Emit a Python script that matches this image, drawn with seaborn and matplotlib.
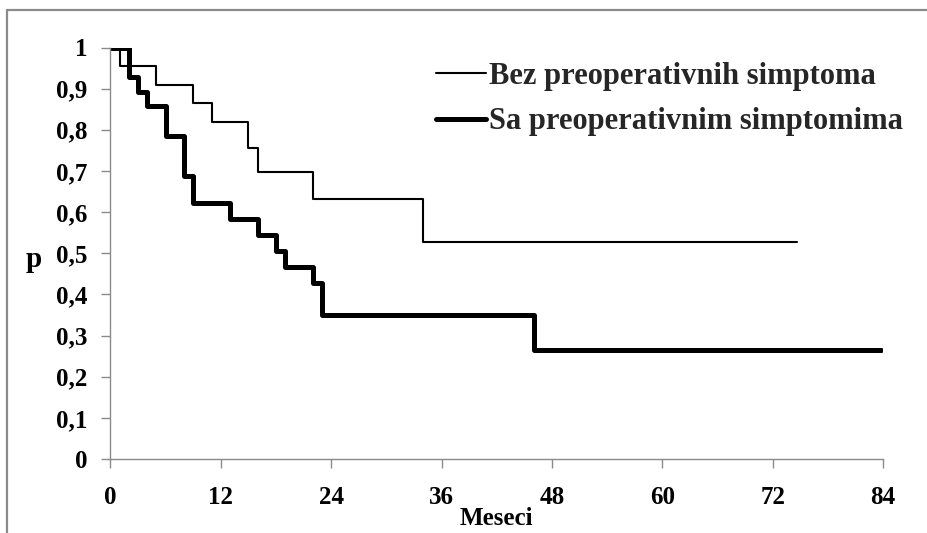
import matplotlib
matplotlib.use("Agg")
import matplotlib.pyplot as plt
from matplotlib.lines import Line2D
from matplotlib.ticker import FixedLocator, FuncFormatter
import pandas as pd
import seaborn as sns

# Kaplan-Meier survival estimates (time in months, cumulative survival p)
bez_time = [0, 1, 5, 9, 11, 15, 16, 22, 34, 74.7]
bez_p = [1.0, 0.955, 0.909, 0.864, 0.818, 0.755, 0.697, 0.633, 0.527, 0.527]

sa_time = [0, 2, 3, 4, 6, 8, 9, 13, 16, 18, 19, 22, 23, 46, 83.8]
sa_p = [1.0, 0.929, 0.893, 0.857, 0.786, 0.688, 0.621, 0.583, 0.544,
        0.505, 0.466, 0.427, 0.350, 0.265, 0.265]

series_names = ["Bez preoperativnih simptoma", "Sa preoperativnim simptomima"]
x_ticks = [0, 12, 24, 36, 48, 60, 72, 84]
y_ticks = [0, 0.1, 0.2, 0.3, 0.4, 0.5, 0.6, 0.7, 0.8, 0.9, 1.0]

sns.set_theme(style="white")
plt.rcParams["font.family"] = ["Liberation Serif", "DejaVu Serif"]
plt.rcParams["font.weight"] = "bold"

W, H = 928, 533
fig = plt.figure(figsize=(W / 100, H / 100), dpi=100)
fig.patch.set_facecolor("white")

# axes rectangle in pixels: left 110.5, right 883, top 47.5, bottom 459
ax = fig.add_axes([110.5 / W, (H - 459) / H, (883 - 110.5) / W, (459 - 47.5) / H])
ax.set_facecolor("white")

df_bez = pd.DataFrame({"t": bez_time, "p": bez_p})
df_sa = pd.DataFrame({"t": sa_time, "p": sa_p})

sns.lineplot(data=df_bez, x="t", y="p", ax=ax, color="black", linewidth=1.5,
             drawstyle="steps-post", estimator=None, sort=False,
             label=series_names[0])
sns.lineplot(data=df_sa, x="t", y="p", ax=ax, color="black", linewidth=3.6,
             drawstyle="steps-post", estimator=None, sort=False,
             label=series_names[1])

ax.set_xlim(0, 84)
ax.set_ylim(0, 1)
ax.xaxis.set_major_locator(FixedLocator(x_ticks))
ax.yaxis.set_major_locator(FixedLocator(y_ticks))
ax.xaxis.set_major_formatter(FuncFormatter(lambda v, _: f"{v:g}"))
ax.yaxis.set_major_formatter(FuncFormatter(lambda v, _: f"{v:g}".replace(".", ",")))

for side in ("top", "right"):
    ax.spines[side].set_visible(False)
for side in ("left", "bottom"):
    ax.spines[side].set_color("#8a8a8a")
    ax.spines[side].set_linewidth(1.0)

ax.tick_params(axis="both", which="major", direction="out", length=6.5,
               width=1.0, color="#8a8a8a", labelsize=18, labelcolor="black",
               left=True, bottom=True)
ax.tick_params(axis="y", pad=10)
ax.tick_params(axis="x", pad=13)
for lbl in ax.get_xticklabels() + ax.get_yticklabels():
    lbl.set_fontweight("bold")

ax.set_xlabel("Meseci", fontsize=18, fontweight="bold", color="black")
ax.set_ylabel("p", fontsize=21, fontweight="bold", color="black", rotation=0)
ax.xaxis.set_label_coords(0.5, -0.145)
ax.xaxis.label.set_va("center")
ax.yaxis.set_label_coords(-0.1, 0.485)
ax.yaxis.label.set_va("center")
ax.yaxis.label.set_ha("center")

leg = ax.legend(loc="center left", bbox_to_anchor=(436 / W, (H - 99) / H),
                bbox_transform=fig.transFigure, frameon=False,
                prop={"family": "Liberation Serif", "weight": "bold", "size": 22},
                handlelength=1.65, handletextpad=0.08, labelspacing=0.55,
                borderpad=0, borderaxespad=0)

# outer chart border (left and top edges)
border_kw = dict(color="#8a8a8a", linewidth=1.6, transform=None)
fig.add_artist(Line2D([7, 7], [0, H - 10], **border_kw))
fig.add_artist(Line2D([7, W], [H - 10, H - 10], **border_kw))

fig.savefig("out.png", dpi=100)
